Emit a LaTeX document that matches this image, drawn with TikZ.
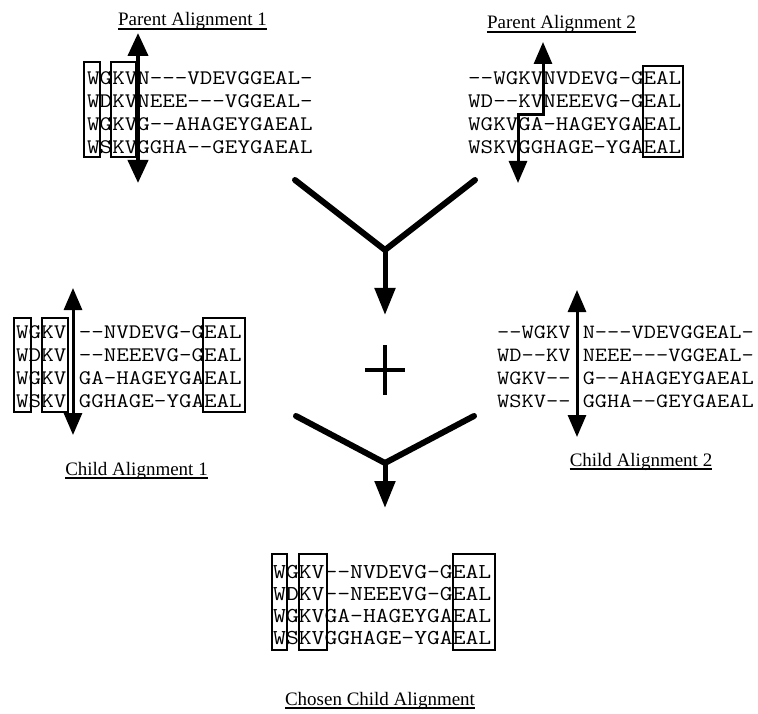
\documentclass[tikz,border=0pt]{standalone}
\usepackage{fontspec}
\usepackage{graphicx}
\setmainfont{Liberation Serif}
\usetikzlibrary{arrows.meta}
\newcommand{\seqtxt}[1]{\scalebox{1.175}[1]{#1}}
\begin{document}
\begin{tikzpicture}[x=1pt,y=-1pt,
  seq/.style={inner sep=0pt, anchor=base west, font=\ttfamily\fontsize{20.7}{22}\selectfont},
  seqB/.style={seq, font=\ttfamily\fontsize{20.2}{22}\selectfont},
  seqC/.style={seq, font=\ttfamily\fontsize{21.2}{22}\selectfont},
  ttl/.style={inner sep=0pt, anchor=base, font=\fontsize{19}{22}\selectfont},
  uline/.style={line width=1.2pt},
  colbox/.style={draw, line width=1.8pt},
  dbl/.style={line width=3pt, {Triangle[width=18pt,length=22pt]}-{Triangle[width=18pt,length=22pt]}},
  dblthick/.style={line width=4pt, {Triangle[width=20pt,length=23pt]}-{Triangle[width=20pt,length=23pt]}},
  yline/.style={line width=6pt, line cap=round, line join=miter},
  stem/.style={line width=5pt, -{Triangle[width=20pt,length=27pt]}},
  plus/.style={line width=3.5pt},
]
\fill[white] (0,0) rectangle (758,714);
\useasboundingbox (0,0) rectangle (758,714);

% ---------- titles ----------
\node[ttl] (t1) at (192.5,26) {Parent Alignment 1};
\node[ttl] (t2) at (561.5,29) {Parent Alignment 2};
\node[ttl] (t3) at (136.5,475) {Child Alignment 1};
\node[ttl] (t4) at (641,466) {Child Alignment 2};
\node[ttl] (t5) at (380,705) {Chosen Child Alignment};
\foreach \t in {t1,t2,t3,t4,t5}
  \draw[uline] ([yshift=-3pt]\t.base west) -- ([yshift=-3pt]\t.base east);

% ---------- parent alignment 1 ----------
\node[seq] (p1a) at (87,85)    {\seqtxt{WGKVN---VDEVGGEAL-}};
\node[seq] (p1b) at (87,107.8) {\seqtxt{WDKVNEEE---VGGEAL-}};
\node[seq] (p1c) at (87,130.6) {\seqtxt{WGKVG--AHAGEYGAEAL}};
\node[seq] (p1d) at (87,153.4) {\seqtxt{WSKVGGHA--GEYGAEAL}};
\draw[colbox] (84,62) rectangle (100,157);
\draw[colbox] (111,62) rectangle (136,157);
\coordinate (p1top) at (138,33);
\coordinate (p1bot) at (138,183);
\draw[dblthick] (p1top) -- (p1bot);

% ---------- parent alignment 2 ----------
\node[seq] (p2a) at (468,85)    {\seqtxt{--WGKVNVDEVG-GEAL}};
\node[seq] (p2b) at (468,107.8) {\seqtxt{WD--KVNEEEVG-GEAL}};
\node[seq] (p2c) at (468,130.6) {\seqtxt{WGKVGA-HAGEYGAEAL}};
\node[seq] (p2d) at (468,153.4) {\seqtxt{WSKVGGHAGE-YGAEAL}};
\draw[colbox] (643,66) rectangle (683,157);
\coordinate (p2top) at (543,42);
\coordinate (p2k1) at (543,115);
\coordinate (p2k2) at (518,115);
\coordinate (p2bot) at (518,183);
\draw[dbl, line join=miter] (p2top) -- (p2k1) -- (p2k2) -- (p2bot);

% ---------- upper merge ----------
\coordinate (y1l) at (295,180);
\coordinate (y1v) at (385,250);
\coordinate (y1r) at (475,180);
\coordinate (y1t) at (385,315);
\draw[yline] (y1l) -- (y1v) -- (y1r);
\draw[stem] (y1v) -- (y1t);

% ---------- plus ----------
\coordinate (pc) at (385,370);
\draw[plus] ([xshift=-20pt]pc) -- ([xshift=20pt]pc);
\draw[plus] ([yshift=25pt]pc) -- ([yshift=-25pt]pc);

% ---------- child alignment 1 ----------
\node[seq] (c1a) at (16,338) {\seqtxt{WGKV --NVDEVG-GEAL}};
\node[seq] (c1b) at (16,361) {\seqtxt{WDKV --NEEEVG-GEAL}};
\node[seq] (c1c) at (16,384) {\seqtxt{WGKV GA-HAGEYGAEAL}};
\node[seq] (c1d) at (16,407) {\seqtxt{WSKV GGHAGE-YGAEAL}};
\draw[colbox] (14,318) rectangle (31,412);
\draw[colbox] (42,318) rectangle (68,412);
\draw[colbox] (203,318) rectangle (245,412);
\coordinate (c1top) at (73,288);
\coordinate (c1bot) at (73,435);
\draw[dbl] (c1top) -- (c1bot);

% ---------- child alignment 2 ----------
\node[seqB] (c2a) at (497,338) {\seqtxt{--WGKV N---VDEVGGEAL-}};
\node[seqB] (c2b) at (497,361) {\seqtxt{WD--KV NEEE---VGGEAL-}};
\node[seqB] (c2c) at (497,384) {\seqtxt{WGKV-- G--AHAGEYGAEAL}};
\node[seqB] (c2d) at (497,407) {\seqtxt{WSKV-- GGHA--GEYGAEAL}};
\coordinate (c2top) at (577,290);
\coordinate (c2bot) at (577,437);
\draw[dbl] (c2top) -- (c2bot);

% ---------- lower merge ----------
\coordinate (y2l) at (296,416);
\coordinate (y2v) at (385,463);
\coordinate (y2r) at (474,416);
\coordinate (y2t) at (385,508);
\draw[yline] (y2l) -- (y2v) -- (y2r);
\draw[stem] (y2v) -- (y2t);

% ---------- chosen child alignment ----------
\node[seqC] (ca) at (273,578) {\seqtxt{WGKV--NVDEVG-GEAL}};
\node[seqC] (cb) at (273,600) {\seqtxt{WDKV--NEEEVG-GEAL}};
\node[seqC] (cc) at (273,622) {\seqtxt{WGKVGA-HAGEYGAEAL}};
\node[seqC] (cd) at (273,644) {\seqtxt{WSKVGGHAGE-YGAEAL}};
\draw[colbox] (272,554) rectangle (287,650);
\draw[colbox] (299,554) rectangle (327,650);
\draw[colbox] (453,554) rectangle (495,650);
\end{tikzpicture}
\end{document}
